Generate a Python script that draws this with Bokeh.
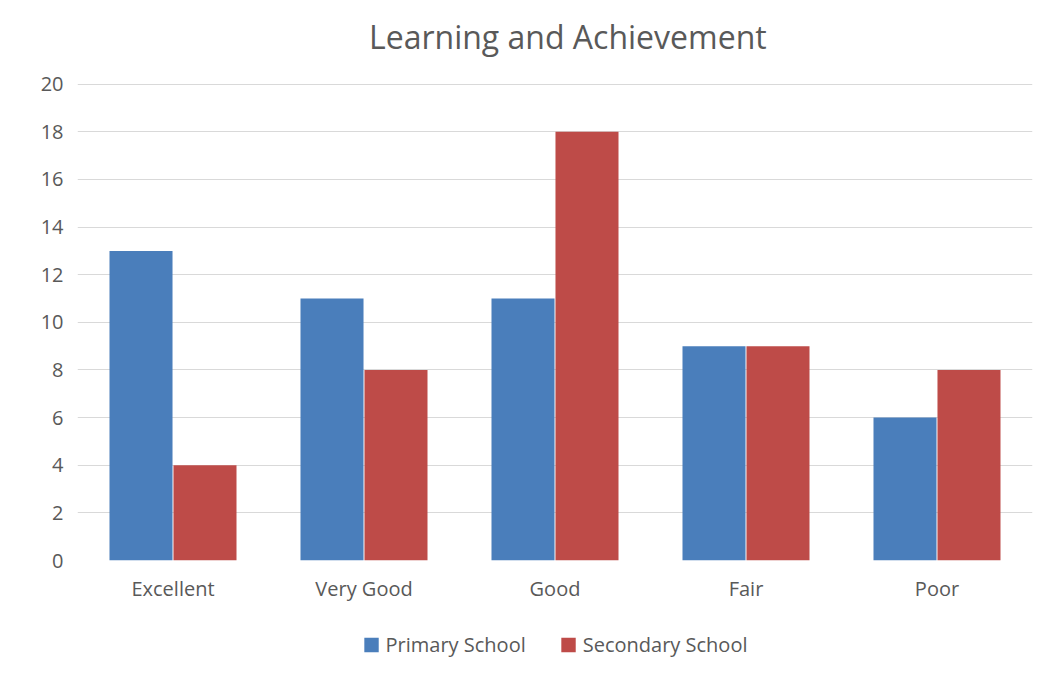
from bokeh.plotting import figure
from bokeh.models import FactorRange, Range1d, Legend, LegendItem, ColumnDataSource, FixedTicker
from bokeh.core.properties import value
from bokeh.transform import dodge
from bokeh.layouts import column
from bokeh.embed import file_html
from bokeh.resources import INLINE

categories = ["Excellent", "Very Good", "Good", "Fair", "Poor"]
primary = [13, 11, 11, 9, 6]
secondary = [4, 8, 18, 9, 8]
series_names = ["Primary School", "Secondary School"]
series_colors = ["#4a7ebb", "#be4b48"]
y_ticks = [0, 2, 4, 6, 8, 10, 12, 14, 16, 18, 20]
title_text = "Learning and Achievement"

FONT = "Open Sans"
TXT = "#595959"
W = 1042

src = ColumnDataSource(dict(cat=categories, primary=primary, secondary=secondary))

# title strip
tf = figure(width=W, height=60, x_range=Range1d(0, W), y_range=Range1d(0, 60),
            x_axis_type=None, y_axis_type=None, output_backend="svg", toolbar_location=None,
            min_border_left=0, min_border_right=0, min_border_top=0, min_border_bottom=0)
tf.outline_line_color = None
tf.xgrid.grid_line_color = None
tf.ygrid.grid_line_color = None
tf.text(x=[535], y=[24], text=[title_text], text_align="center", text_baseline="middle",
        text_font=value(FONT), text_font_size="32px", text_color=TXT)

# main chart
p = figure(x_range=FactorRange(*categories), y_range=Range1d(0, 20.03),
           frame_width=955, frame_height=477, output_backend="svg", toolbar_location=None,
           min_border_left=77, min_border_right=10, min_border_top=23, min_border_bottom=55)

p.vbar(x=dodge("cat", -0.1675, range=p.x_range), top="primary", width=0.33,
       source=src, fill_color=series_colors[0], line_color=None)
p.vbar(x=dodge("cat", 0.1675, range=p.x_range), top="secondary", width=0.33,
       source=src, fill_color=series_colors[1], line_color=None)

p.outline_line_color = None
p.xgrid.grid_line_color = None
p.ygrid.grid_line_color = "#d9d9d9"
p.ygrid.grid_line_width = 1
p.yaxis.ticker = FixedTicker(ticks=y_ticks)
p.x_range.range_padding = 0
p.x_range.group_padding = 0

for ax in (p.xaxis, p.yaxis):
    ax.axis_line_color = None
    ax.major_tick_line_color = None
    ax.minor_tick_line_color = None
    ax.major_label_text_font = FONT
    ax.major_label_text_font_size = "20px"
    ax.major_label_text_color = TXT
p.yaxis.major_label_standoff = 8
p.xaxis.major_label_standoff = 8

# legend strip: same series as zero-width bars out of view, so only the legend shows
lf = figure(width=W, height=58, x_range=FactorRange(*categories), y_range=Range1d(-2, -1),
            x_axis_type=None, y_axis_type=None, output_backend="svg", toolbar_location=None,
            min_border_left=26, min_border_right=0, min_border_top=0, min_border_bottom=0)
lf.outline_line_color = None
lf.xgrid.grid_line_color = None
lf.ygrid.grid_line_color = None
lr1 = lf.vbar(x="cat", top="primary", width=0, source=src,
              fill_color=series_colors[0], line_color=None)
lr2 = lf.vbar(x="cat", top="secondary", width=0, source=src,
              fill_color=series_colors[1], line_color=None)
legend = Legend(items=[LegendItem(label=series_names[0], renderers=[lr1]),
                       LegendItem(label=series_names[1], renderers=[lr2])],
                orientation="horizontal", location="center",
                label_text_font=FONT, label_text_font_size="20px", label_text_color=TXT,
                glyph_width=18, glyph_height=18, spacing=33, label_standoff=6,
                border_line_color=None, background_fill_alpha=0, margin=0, padding=0)
lf.add_layout(legend, "center")

layout = column(tf, p, lf, spacing=0)
open("out.html", "w").write(file_html(layout, INLINE))
